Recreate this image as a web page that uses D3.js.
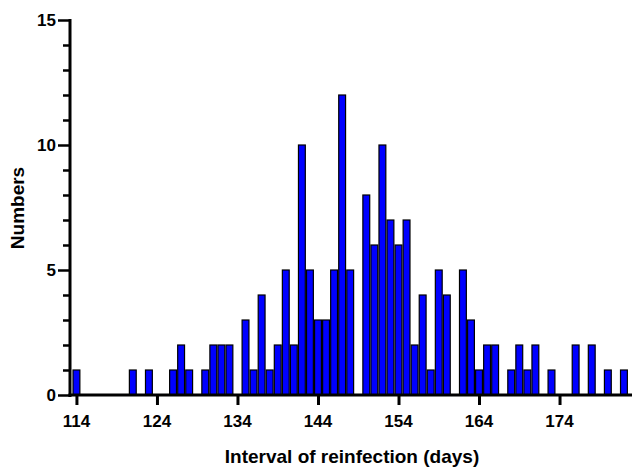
<!DOCTYPE html>
<html><head><meta charset="utf-8">
<script src="https://cdn.jsdelivr.net/npm/d3@7"></script>
<style>body{margin:0;background:#fff}svg{display:block}text{font-family:"Liberation Sans",Arial,sans-serif;font-weight:bold;fill:#000}</style>
</head><body><svg id="c" width="632" height="472"></svg>
<script>
const days = d3.range(114, 183);
const counts = [1,0,0,0,0,0,0,1,0,1,0,0,1,2,1,0,1,2,2,2,0,3,1,4,1,2,5,2,10,5,3,3,5,12,5,0,8,6,10,7,6,7,2,4,1,5,4,0,5,3,1,2,2,0,1,2,1,2,0,1,0,0,2,0,2,0,1,0,1];
const xTicks = [114,124,134,144,154,164,174];
const yTicks = [0,5,10,15];
const data = days.map((d,i)=>({day:d,n:counts[i]}));

const svg = d3.select("#c");
const x = d3.scaleLinear().domain([113.2,183]).range([70,632]);
const y = d3.scaleLinear().domain([0,15]).range([395,20]);

svg.append("g").selectAll("rect").data(data.filter(d=>d.n>0)).join("rect")
  .attr("x", d=>x(d.day-0.5)+0.6)
  .attr("width", d=>x(d.day+0.5)-x(d.day-0.5)-1.2)
  .attr("y", d=>y(d.n))
  .attr("height", d=>y(0)-y(d.n))
  .attr("fill","#0000ff").attr("stroke","#000").attr("stroke-width",1.2);

// y axis
const yAxis = svg.append("g").attr("transform","translate(70,0)");
yAxis.call(d3.axisLeft(y).tickValues(d3.range(0,16)).tickSize(7).tickFormat(""));
yAxis.selectAll(".tick line").attr("stroke-width",2.5);
yAxis.selectAll(".tick").filter(d=>yTicks.includes(d)).select("line").attr("x2",-12);
yAxis.select(".domain").remove();
yAxis.append("line").attr("x1",0).attr("x2",0).attr("y1",y(15)-1).attr("y2",y(0)+2).attr("stroke","#000").attr("stroke-width",3);
yAxis.selectAll(".ylab").data(yTicks).join("text").attr("class","ylab")
  .attr("x",-14).attr("y",d=>y(d)).attr("dy","0.36em").attr("text-anchor","end")
  .style("font-size","17px").text(d=>d);

// x axis
const xAxis = svg.append("g").attr("transform","translate(0,395)");
xAxis.call(d3.axisBottom(x).tickValues(xTicks).tickSize(10).tickFormat(""));
xAxis.selectAll(".tick line").attr("stroke-width",3);
xAxis.select(".domain").remove();
xAxis.append("line").attr("x1",68.5).attr("x2",632).attr("y1",0).attr("y2",0).attr("stroke","#000").attr("stroke-width",3);
xAxis.selectAll(".xlab").data(xTicks).join("text").attr("class","xlab")
  .attr("x",d=>x(d)).attr("y",32).attr("text-anchor","middle")
  .style("font-size","17px").text(d=>d);

svg.append("text").attr("x",352).attr("y",463).attr("text-anchor","middle")
  .style("font-size","19px").text("Interval of reinfection (days)");
svg.append("text").attr("transform","translate(24,208) rotate(-90)").attr("text-anchor","middle")
  .style("font-size","19px").text("Numbers");
</script></body></html>
